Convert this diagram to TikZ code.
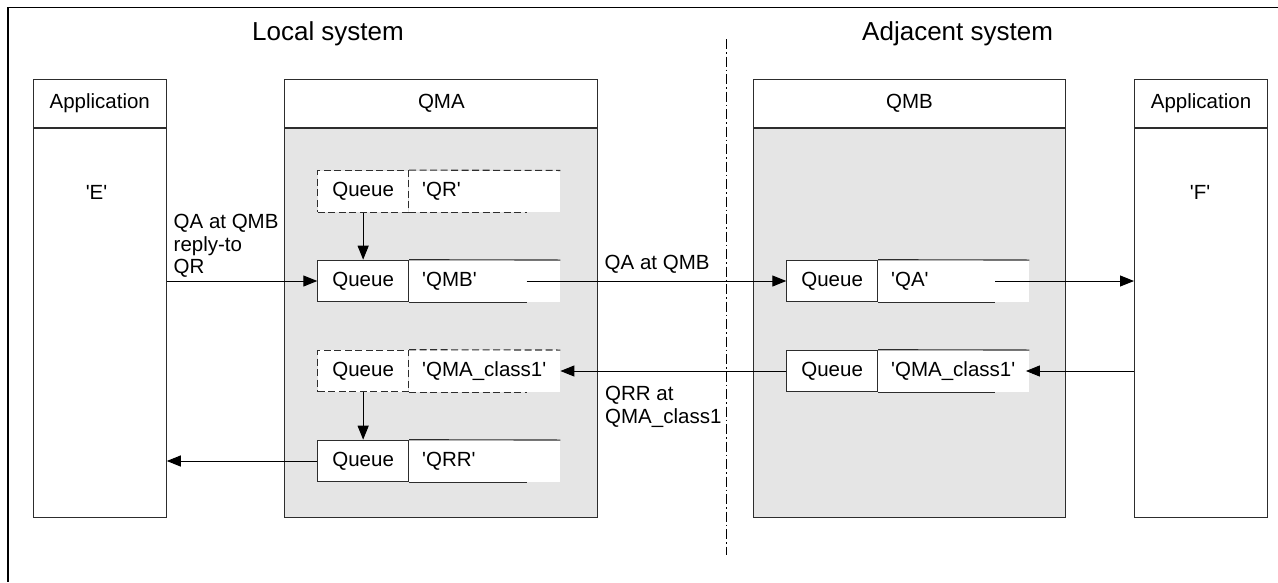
\documentclass[tikz,border=0pt]{standalone}
\usepackage{fontspec}
\newfontfamily\arial{Liberation Sans}
\usetikzlibrary{arrows.meta,positioning,calc}
\definecolor{qmgray}{RGB}{229,229,229}
\definecolor{edge}{RGB}{45,45,45}
\tikzset{
	txt/.style={font=\arial\fontsize{20.5}{22.6}\selectfont},
	title/.style={font=\arial\fontsize{26}{30}\selectfont},
	box/.style={draw=edge, line width=1.1pt, rectangle, inner sep=0pt},
	hdr/.style={box, txt, fill=white, minimum height=48pt},
	body/.style={box, minimum height=389pt},
	qcell/.style={box, txt, fill=white, minimum width=90.6pt, minimum height=41.5pt},
	qname/.style={txt, fill=white, minimum height=41.5pt, text width=125pt, inner xsep=13pt, inner ysep=0pt, align=left, anchor=west},
	qline/.style={draw=edge, line width=1.1pt},
	dsh/.style={dash pattern=on 7pt off 3.5pt},
	arr/.style={line width=1pt, -{Triangle[length=14pt,width=11pt]}},
}
\begin{document}
\begin{tikzpicture}[x=1pt,y=-1pt]
		\useasboundingbox (0,0) rectangle (1278,582);
		%frame + divider
			\coordinate (frtr) at (1278,7.3);
			\coordinate (frtl) at (8,7.3);
			\coordinate (frbl) at (8,582);
			\draw[line width=1.3pt] (frtr) -- (frtl) -- (frbl);
			\coordinate (divtop) at (726.5,39);
			\coordinate (divbot) at (726.5,555);
			\draw[line width=0.9pt, dash pattern=on 10pt off 3pt on 1.5pt off 3pt] (divtop) -- (divbot);
			\node[title] (local) at (328,34) {Local system};
			\node[title] (adjacent) at (957.6,34) {Adjacent system};
		%applications
			\node[hdr, minimum width=133pt, anchor=north west] (apphE) at (32.7,78.7) {Application};
			\node[body, minimum width=133pt, anchor=north] (appE) at (apphE.south) {};
			\node[txt] (etxt) at (96.5,192.5) {'E'};
			\node[hdr, minimum width=133pt, anchor=north west] (apphF) at (1134,78.7) {Application};
			\node[body, minimum width=133pt, anchor=north] (appF) at (apphF.south) {};
			\node[txt] (ftxt) at (1200,192.5) {'F'};
		%queue managers
			\node[hdr, minimum width=313pt, anchor=north west] (qmah) at (284.3,78.7) {QMA};
			\node[body, fill=qmgray, minimum width=313pt, anchor=north] (qma) at (qmah.south) {};
			\node[hdr, minimum width=312.5pt, anchor=north west] (qmbh) at (752.7,78.7) {QMB};
			\node[body, fill=qmgray, minimum width=312.5pt, anchor=north] (qmb) at (qmbh.south) {};
		%queues at QMA
			\node[qname] (qrn) at (409,191.4) {'QR'};
			\node[qcell, dsh, left=0pt of qrn] (qrq) {Queue};
			\draw[qline, dsh] (qrq.north east) -- (qrn.north east);
			\draw[qline, dsh] (qrq.south east) -- ++(117.5,0) coordinate (qr-end);
			\node[qname] (qmbn) at (409,281) {'QMB'};
			\node[qcell, left=0pt of qmbn] (qmbq) {Queue};
			\draw[qline] (qmbq.north east) -- (qmbn.north east);
			\draw[qline] (qmbq.south east) -- ++(117.5,0) coordinate (qmb-end);
			\node[qname] (qmacn) at (409,371) {'QMA\_class1'};
			\node[qcell, dsh, left=0pt of qmacn] (qmacq) {Queue};
			\draw[qline, dsh] (qmacq.north east) -- (qmacn.north east);
			\draw[qline, dsh] (qmacq.south east) -- ++(117.5,0) coordinate (qmac-end);
			\node[qname] (qrrn) at (409,461) {'QRR'};
			\node[qcell, left=0pt of qrrn] (qrrq) {Queue};
			\draw[qline] (qrrq.north east) -- (qrrn.north east);
			\draw[qline] (qrrq.south east) -- ++(117.5,0) coordinate (qrr-end);
		%queues at QMB
			\node[qname] (qan) at (878,281) {'QA'};
			\node[qcell, left=0pt of qan] (qaq) {Queue};
			\draw[qline] (qaq.north east) -- (qan.north east);
			\draw[qline] (qaq.south east) -- ++(117,0) coordinate (qa-end);
			\node[qname] (qmbcn) at (878,371) {'QMA\_class1'};
			\node[qcell, left=0pt of qmbcn] (qmbcq) {Queue};
			\draw[qline] (qmbcq.north east) -- (qmbcn.north east);
			\draw[qline] (qmbcq.south east) -- ++(117,0) coordinate (qmbc-end);
		%flows + labels
			\draw[arr] (appE.east |- qmbq.west) -- (qmbq.west);
			\node[txt, align=left, anchor=north west, inner sep=0pt] (putlbl) at (173.5,214) {QA at QMB\\reply-to\\QR};
			\draw[arr] (qrq) -- (qmbq);
			\draw[arr] (qmb-end |- qmbn.east) -- (qaq.west);
			\node[txt, anchor=west, inner sep=0pt] (sendlbl) at (604.5,264.5) {QA at QMB};
			\draw[arr] (qa-end |- qan.east) -- (appF.west |- qan.east);
			\draw[arr] (appF.west |- qmbcn.east) -- ($(qmbcn.east)+(-3.5,0)$);
			\draw[arr] (qmbcq.west) -- (qmacn.east);
			\node[txt, align=left, anchor=north west, inner sep=0pt] (replylbl) at (605,386) {QRR at\\QMA\_class1};
			\draw[arr] (qmacq) -- (qrrq);
			\draw[arr] (qrrq.west) -- (appE.east |- qrrq.west);
	\end{tikzpicture}
\end{document}
